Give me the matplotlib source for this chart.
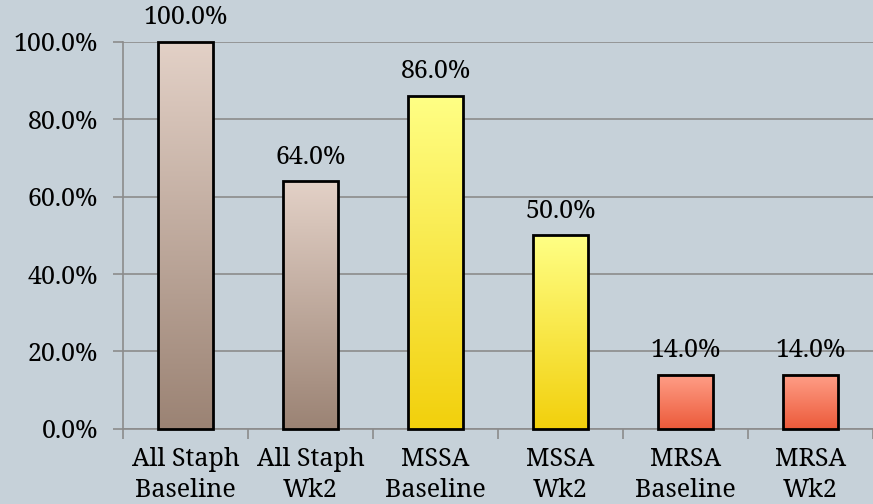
import matplotlib
matplotlib.use("Agg")
import matplotlib.pyplot as plt
import numpy as np
from matplotlib.colors import LinearSegmentedColormap
from matplotlib import font_manager

categories = ["All Staph\nBaseline", "All Staph\nWk2", "MSSA\nBaseline", "MSSA\nWk2", "MRSA\nBaseline", "MRSA\nWk2"]
values = [100.0, 64.0, 86.0, 50.0, 14.0, 14.0]
top_colors = ["#e3d1c7", "#e3d1c7", "#ffff85", "#ffff85", "#ff9f88", "#ff9f88"]
bottom_colors = ["#9b8374", "#9b8374", "#f2d00c", "#f2d00c", "#ec5a3a", "#ec5a3a"]
yticks = [0, 20, 40, 60, 80, 100]

names = {f.name for f in font_manager.fontManager.ttflist}
serif = [n for n in ["Noto Serif", "DejaVu Serif", "Liberation Serif"] if n in names]
plt.rcParams['font.family'] = serif + ['DejaVu Sans']

FS = 18

fig = plt.figure(figsize=(8.73, 5.04), dpi=100)
bg = "#c6d1d9"
fig.patch.set_facecolor(bg)
ax = fig.add_axes([0.141, 0.149, 0.859, 0.768])
ax.set_facecolor(bg)

x = np.arange(len(values))
w = 0.44

for i, v in enumerate(values):
    cmap = LinearSegmentedColormap.from_list("g", [bottom_colors[i], top_colors[i]])
    grad = np.linspace(0, 1, 256).reshape(-1, 1)
    ax.imshow(grad, extent=(i - w / 2, i + w / 2, 0, v), origin="lower", cmap=cmap,
              aspect="auto", zorder=3, clip_on=False)
    ax.bar(i, v, width=w, facecolor="none", edgecolor="black", linewidth=2, zorder=4, clip_on=False)
    ax.text(i, v + 3.0, f"{v:.1f}%", ha="center", va="bottom", fontsize=FS, zorder=5)

ax.set_xlim(-0.5, len(values) - 0.5)
ax.set_ylim(0, 100)
ax.set_yticks(yticks)
ax.set_yticklabels([f"{t:.1f}%" for t in yticks], fontsize=FS)
ax.yaxis.grid(True, color="#8c8c8c", linewidth=1.2, zorder=0)
ax.set_axisbelow(True)

ax.set_xticks(x)
ax.set_xticklabels(categories, fontsize=FS, linespacing=1.3)
ax.set_xticks(np.arange(-0.5, len(values) + 0.5, 1), minor=True)
ax.tick_params(axis="x", which="major", length=0, pad=13)
ax.tick_params(axis="x", which="minor", length=7, color="#8c8c8c", width=1.2, direction="out")
ax.tick_params(axis="y", length=7, color="#8c8c8c", width=1.2, pad=11)

for s in ["top", "right"]:
    ax.spines[s].set_visible(False)
ax.spines["left"].set_color("#8c8c8c")
ax.spines["bottom"].set_color("#8c8c8c")
ax.spines["left"].set_linewidth(1.2)
ax.spines["bottom"].set_linewidth(1.2)

fig.savefig("out.png", dpi=100, facecolor=bg)
